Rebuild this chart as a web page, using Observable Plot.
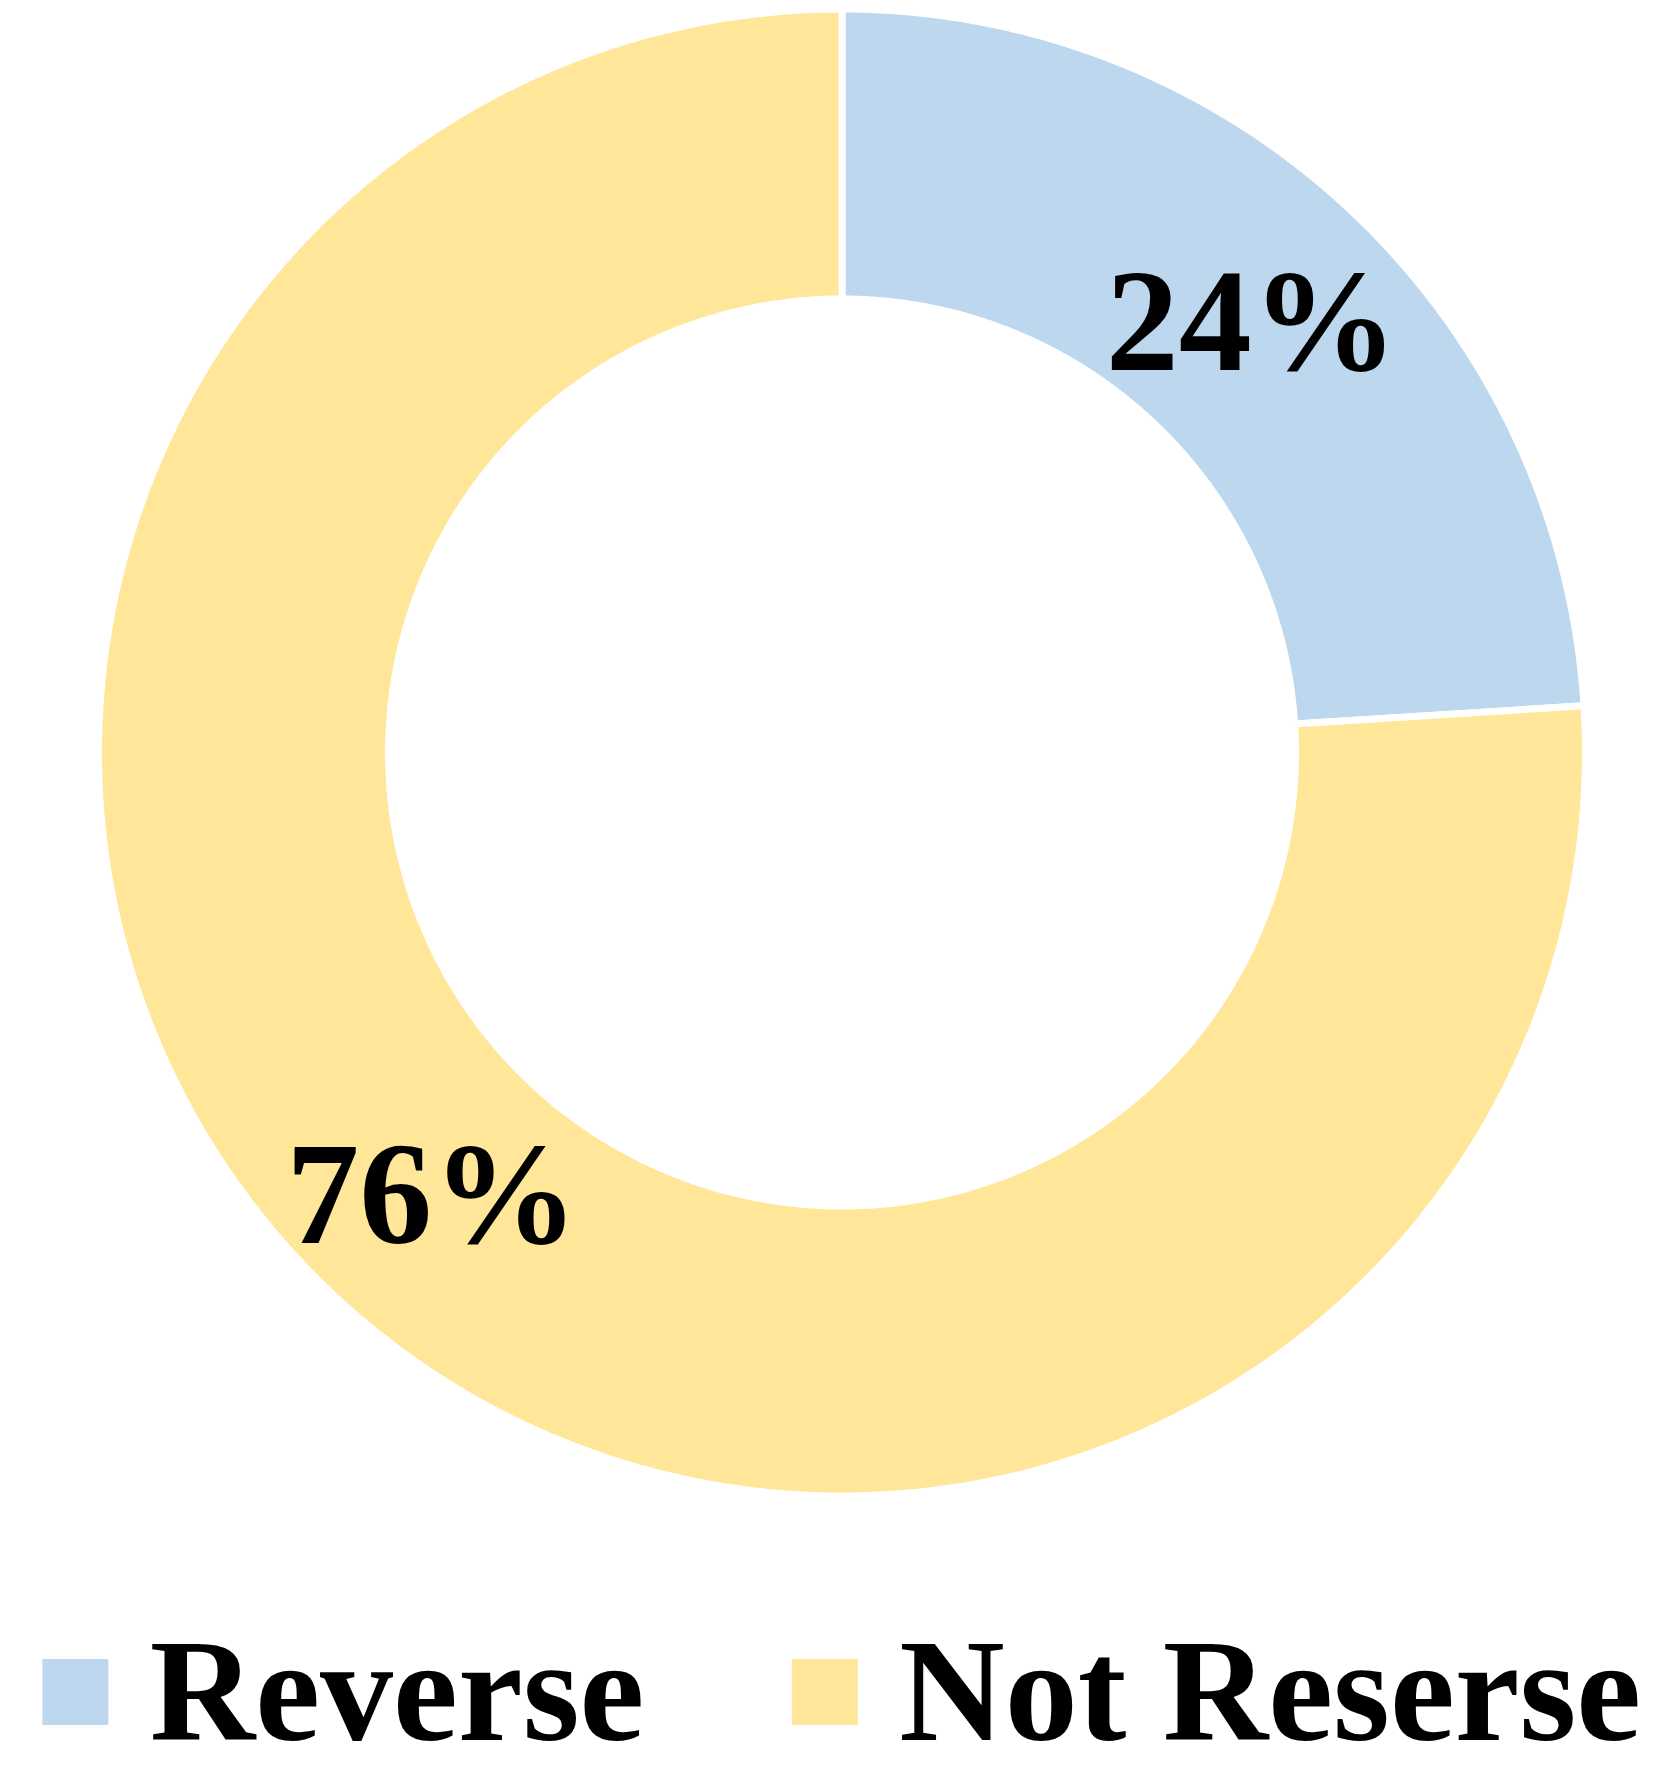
<!DOCTYPE html>
<html>
<head>
<meta charset="utf-8">
<script src="https://cdn.jsdelivr.net/npm/d3@7"></script>
<script src="https://cdn.jsdelivr.net/npm/@observablehq/plot@0.6"></script>
<style>
  html, body { margin: 0; padding: 0; background: #fff; }
  #chart svg { display: block; }
</style>
</head>
<body>
<div id="chart"></div>
<script>
// ---- data ----
const categories = ["Reverse", "Not Reserse"];
const values = [24, 76];
const labels = ["24%", "76%"];
const colors = ["#BDD7EE", "#FFE699"];

// ---- layout ----
const W = 1662, H = 1773;
const cx = 841.5, cy = 752;
const Rout = 743.5, Rin = 453.5;
const gapW = 7;
const FONT = "'Liberation Serif', 'Times New Roman', serif";
const FS = 146;

const pie = d3.pie().sort(null).value(d => d.value);
const arcs = pie(categories.map((c, i) => ({cat: c, value: values[i], label: labels[i]})));

// polygon outline for each slice
const pts = [];
for (const a of arcs) {
  const n = 240;
  for (let k = 0; k <= n; k++) {
    const t = a.startAngle + (a.endAngle - a.startAngle) * k / n;
    pts.push({cat: a.data.cat, x: Rout * Math.sin(t), y: -Rout * Math.cos(t)});
  }
  for (let k = n; k >= 0; k--) {
    const t = a.startAngle + (a.endAngle - a.startAngle) * k / n;
    pts.push({cat: a.data.cat, x: Rin * Math.sin(t), y: -Rin * Math.cos(t)});
  }
}

const rMid = (Rout + Rin) / 2;
const labelData = arcs.map(a => {
  const m = (a.startAngle + a.endAngle) / 2;
  return {label: a.data.label, x: rMid * Math.sin(m), y: -rMid * Math.cos(m)};
});

// legend layout
const ctx = document.createElement("canvas").getContext("2d");
ctx.font = `bold ${FS}px ${FONT}`;
const sq = 66, sqGap = 41, itemGap = 148;
const widths = categories.map(c => ctx.measureText(c).width);
const total = widths.reduce((s, w) => s + sq + sqGap + w, 0) + itemGap * (categories.length - 1);
let xx = -total / 2;
const legendY0 = 907, legendY1 = 973, legendBase = 987;
const legend = categories.map((c, i) => {
  const item = {cat: c, x1: xx, x2: xx + sq, tx: xx + sq + sqGap, y1: legendY0, y2: legendY1, ty: legendBase};
  xx += sq + sqGap + widths[i] + itemGap;
  return item;
});

const chart = Plot.plot({
  width: W,
  height: H,
  margin: 0,
  x: {domain: [-cx, W - cx], range: [0, W], axis: null},
  y: {domain: [-cy, H - cy], range: [0, H], axis: null},
  color: {domain: categories, range: colors},
  style: {background: "#fff", fontFamily: FONT},
  marks: [
    Plot.line(pts, {
      x: "x", y: "y", z: "cat", fill: "cat",
      stroke: "white", strokeWidth: gapW, curve: "linear-closed", strokeLinejoin: "miter"
    }),
    Plot.text(labelData, {
      x: "x", y: "y", text: "label", fontSize: FS, fontWeight: "bold",
      fill: "#000", textAnchor: "middle", lineAnchor: "middle", dy: 7
    }),
    Plot.rect(legend, {x1: "x1", x2: "x2", y1: "y1", y2: "y2", fill: "cat"}),
    Plot.text(legend, {
      x: "tx", y: "ty", text: "cat", fontSize: FS, fontWeight: "bold",
      fill: "#000", textAnchor: "start", lineAnchor: "bottom"
    })
  ]
});
document.getElementById("chart").appendChild(chart);
</script>
</body>
</html>
